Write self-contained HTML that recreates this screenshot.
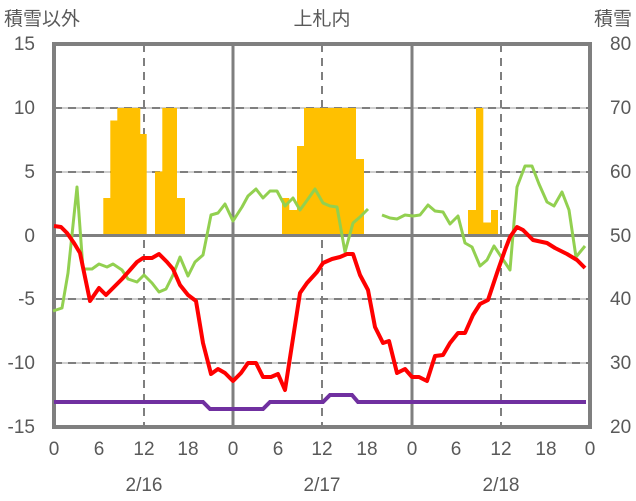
<!DOCTYPE html>
<html><head><meta charset="utf-8"><style>
html,body{margin:0;padding:0;background:#fff;}
svg{display:block;}
text{font-family:"Liberation Sans","Noto Sans CJK JP",sans-serif;fill:#595959;font-size:19px;}
</style></head><body>
<svg width="636" height="501" viewBox="0 0 636 501">
<!-- grid -->
<g stroke="#bfbfbf" stroke-width="1.5">
<line x1="54" y1="108" x2="590" y2="108"/><line x1="54" y1="172" x2="590" y2="172"/>
<line x1="54" y1="299" x2="590" y2="299"/><line x1="54" y1="363" x2="590" y2="363"/>
</g>
<g stroke="#7f7f7f" stroke-width="2" stroke-dasharray="8,6">
<line x1="54" y1="108" x2="590" y2="108"/><line x1="54" y1="172" x2="590" y2="172"/>
<line x1="54" y1="299" x2="590" y2="299"/><line x1="54" y1="363" x2="590" y2="363"/>
<line x1="144" y1="44" x2="144" y2="427"/><line x1="322" y1="44" x2="322" y2="427"/><line x1="501" y1="44" x2="501" y2="427"/>
</g>
<!-- bars -->
<g fill="#ffc000">
<rect x="103.3" y="198" width="7.5" height="37.5"/>
<rect x="110.3" y="120.5" width="7.5" height="115"/>
<rect x="117.3" y="108" width="23" height="127.5"/>
<rect x="140" y="134" width="6.7" height="101.5"/>
<rect x="155" y="171.5" width="7.6" height="64"/>
<rect x="162.3" y="108" width="14.7" height="127.5"/>
<rect x="176.7" y="198" width="8.3" height="37.5"/>
<rect x="282" y="198" width="7.3" height="37.5"/>
<rect x="289" y="210" width="8.3" height="25.5"/>
<rect x="297" y="146" width="7.3" height="89.5"/>
<rect x="304" y="108" width="52" height="127.5"/>
<rect x="356" y="159" width="8" height="76.5"/>
<rect x="468" y="210" width="8.3" height="25.5"/>
<rect x="476" y="108" width="7.3" height="127.5"/>
<rect x="483" y="222.5" width="8.3" height="13"/>
<rect x="491" y="210" width="7" height="25.5"/>
</g>
<!-- axes lines -->
<g stroke="#7f7f7f" stroke-width="3">
<line x1="54" y1="235.5" x2="590" y2="235.5"/>
<line x1="233" y1="44" x2="233" y2="427"/><line x1="412" y1="44" x2="412" y2="427"/>
</g>
<rect x="54" y="44" width="536" height="383" fill="none" stroke="#7f7f7f" stroke-width="4"/>
<!-- purple -->
<polyline fill="none" stroke="#7030a0" stroke-width="4" points="54,402 203,402 210,409 263,409 270,402 323,402 330,395 352,395 358,402 586,402"/>
<!-- green -->
<polyline fill="none" stroke="#92d050" stroke-width="3" stroke-linejoin="round" points="53,311 62,308 68,273 77,187 83,269 92,269 99,264 107,267 113,264 122,270 128,279 137,282 144,275 152,283 159,292 166,289 173,275 180,257 188,276 195,262 203,255 208,230 211,215 218,213 225,204 233,221 242,207 248,196 256,189 263,198 270,191 277,191 285,206 293,198 300,210 308,199 315,189 323,203 330,206 337,207 345,252 353,223 360,217 368,209"/>
<polyline fill="none" stroke="#92d050" stroke-width="3" stroke-linejoin="round" points="382,215 390,218 397,219 405,215 413,216 420,215 428,205 435,211 443,212 450,224 458,216 465,243 472,247 480,266 487,260 494,246 502,258 510,270 517,187 525,166 532,166 539,184 547,202 554,206 562,192 569,210 576,257 585,246"/>
<!-- red -->
<polyline fill="none" stroke="#ff0000" stroke-width="4" stroke-linejoin="round" points="54,226 61,227 67,233 74,243 80,253 90,301 99,288 106,295 114,287 122,279 130,270 137,262 143,258 152,258 159,254 167,262 173,269 180,285 188,295 196,301 203,343 211,374 218,369 225,373 233,381 241,373 248,363 256,363 263,377 271,377 278,374 285,390 300,293 307,283 317,272 323,263 332,259 340,257 347,254 353,254 360,275 368,290 375,327 383,343 389,341 397,373 405,369 412,377 419,377 427,381 435,356 443,355 450,343 458,333 465,333 473,315 480,304 488,300 497,273 505,250 510,237 517,227 523,230 533,240 547,243 555,248 567,254 577,260 585,268"/>
<!-- text -->
<text x="4" y="25">積雪以外</text>
<text x="322" y="25" text-anchor="middle">上札内</text>
<text x="632" y="25" text-anchor="end">積雪</text>
<g text-anchor="end">
<text x="35" y="50">15</text><text x="35" y="114">10</text><text x="35" y="178">5</text>
<text x="35" y="242">0</text><text x="35" y="305">-5</text><text x="35" y="369">-10</text><text x="35" y="433">-15</text>
</g>
<g text-anchor="start">
<text x="610" y="50">80</text><text x="610" y="114">70</text><text x="610" y="178">60</text>
<text x="610" y="242">50</text><text x="610" y="305">40</text><text x="610" y="369">30</text><text x="610" y="433">20</text>
</g>
<g text-anchor="middle">
<text x="54" y="455">0</text><text x="99" y="455">6</text><text x="144" y="455">12</text><text x="188" y="455">18</text>
<text x="233" y="455">0</text><text x="278" y="455">6</text><text x="322" y="455">12</text><text x="367" y="455">18</text>
<text x="412" y="455">0</text><text x="456" y="455">6</text><text x="501" y="455">12</text><text x="546" y="455">18</text>
<text x="590" y="455">0</text>
<text x="144" y="491">2/16</text><text x="322" y="491">2/17</text><text x="501" y="491">2/18</text>
</g>
</svg>
</body></html>
